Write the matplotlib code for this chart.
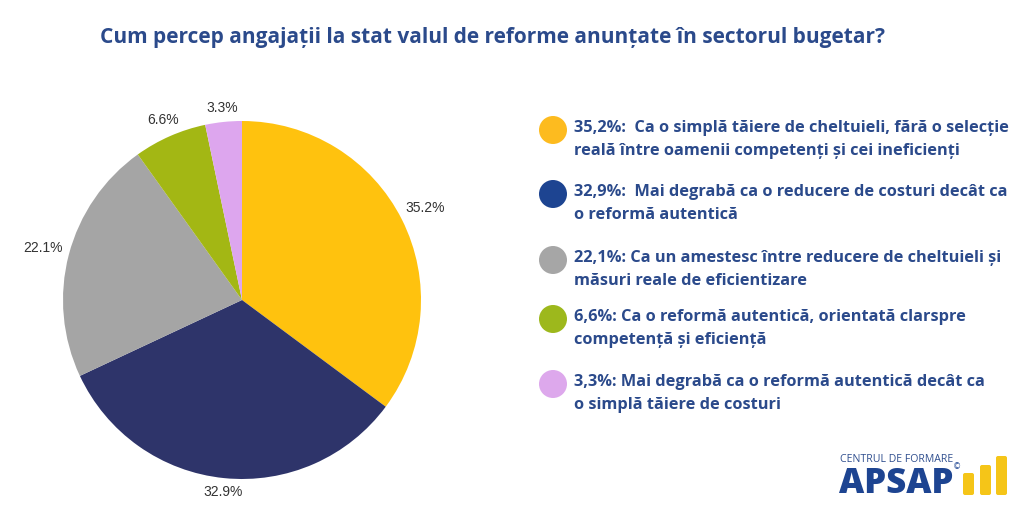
import numpy as np
import matplotlib.pyplot as plt
from matplotlib.patches import Circle, FancyBboxPatch

# data
values = [35.2, 32.9, 22.1, 6.6, 3.3]
pie_labels = ['35.2%', '32.9%', '22.1%', '6.6%', '3.3%']
pie_colors = ['#FFC20E', '#2E346A', '#A5A5A5', '#A3B714', '#DDA6EE']
dot_colors = ['#FDBB1F', '#1D4491', '#A6A6A6', '#9DB81C', '#DDA8EC']
legend_texts = [
    '35,2%:  Ca o simplă tăiere de cheltuieli, fără o selecție\nreală între oamenii competenți și cei ineficienți',
    '32,9%:  Mai degrabă ca o reducere de costuri decât ca\no reformă autentică',
    '22,1%: Ca un amestesc între reducere de cheltuieli și\nmăsuri reale de eficientizare',
    '6,6%: Ca o reformă autentică, orientată clarspre\ncompetență și eficiență',
    '3,3%: Mai degrabă ca o reformă autentică decât ca\no simplă tăiere de costuri',
]
title = 'Cum percep angajații la stat valul de reforme anunțate în sectorul bugetar?'

W, H = 1024, 512
text_blue = '#2B4A8B'

fig = plt.figure(figsize=(W / 100, H / 100), dpi=100)
fig.patch.set_facecolor('white')

# pie axes, placed in pixels: centre (242, 300), radius 179
cx, cy, r = 242, 300, 179
ax = fig.add_axes([(cx - r) / W, (H - cy - r) / H, 2 * r / W, 2 * r / H])
wedges, texts = ax.pie(values, colors=pie_colors, startangle=90, counterclock=False,
                       labels=pie_labels, labeldistance=1.1, radius=1,
                       wedgeprops=dict(linewidth=0),
                       textprops=dict(fontsize=10, color='#333333', family='Liberation Sans'))
ax.set_xlim(-1, 1)
ax.set_ylim(-1, 1)
ax.axis('off')

# push each label out so that its box keeps a small gap to the rim
fig.canvas.draw()
renderer = fig.canvas.get_renderer()
gap = 0.03
for w, t in zip(wedges, texts):
    ang = np.deg2rad((w.theta1 + w.theta2) / 2)
    bb = t.get_window_extent(renderer)
    hw = bb.width / 2 / r
    hh = bb.height / 2 / r
    d = 1 + gap + hw * abs(np.cos(ang)) + hh * abs(np.sin(ang))
    t.set_position((d * np.cos(ang), d * np.sin(ang)))
    t.set_ha('center')
    t.set_va('center')

# overlay axes in pixel coordinates for the rest
ov = fig.add_axes([0, 0, 1, 1])
ov.set_xlim(0, W)
ov.set_ylim(H, 0)
ov.axis('off')

ov.text(492, 37, title, ha='center', va='center', fontsize=15, fontweight='bold',
        color=text_blue, family='Open Sans')

# legend
dot_y = [130, 194, 260, 319, 384]
for y, c, txt in zip(dot_y, dot_colors, legend_texts):
    ov.add_patch(Circle((553, y), 14, color=c, lw=0))
    ov.text(574, y + 9.5, txt, ha='left', va='center', fontsize=11.8, fontweight='bold',
            color=text_blue, family='Open Sans', linespacing=1.55)

# logo
ov.text(897, 460, 'CENTRUL DE FORMARE', ha='center', va='center', fontsize=7.6,
        color='#2F4E8E', family='Open Sans')
ov.text(896, 484, 'APSAP', ha='center', va='center', fontsize=25, fontweight='heavy',
        color='#1D4491', family='Open Sans')
ov.text(957, 467, '©', ha='center', va='center', fontsize=6, color='#1D4491')
bars = [(963, 473), (980, 465), (996, 456)]
for bx, top in bars:
    ov.add_patch(FancyBboxPatch((bx, top), 11, 495 - top, boxstyle='round,pad=0,rounding_size=2',
                                color='#F5C518', lw=0))

fig.savefig('out.png', dpi=100)
